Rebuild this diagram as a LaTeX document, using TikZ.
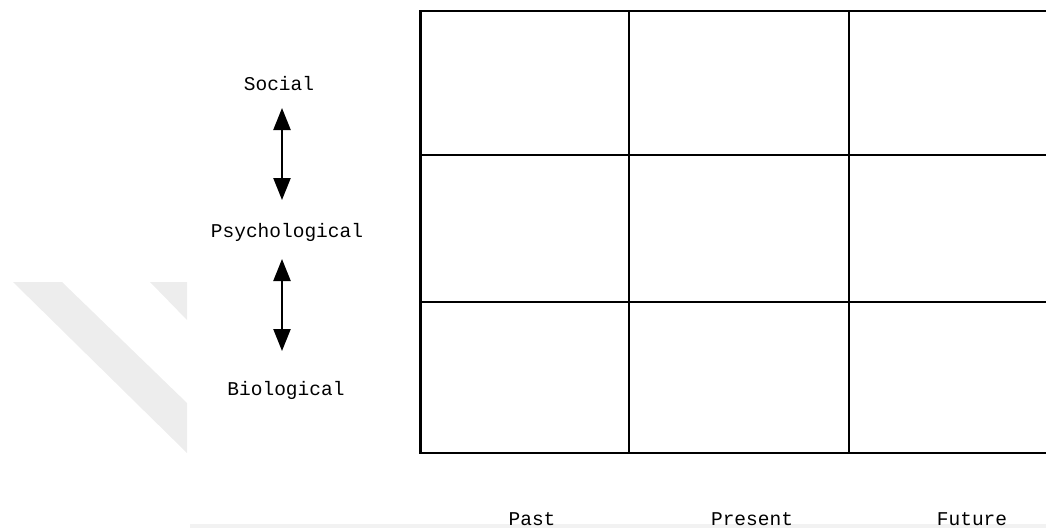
\documentclass[tikz,border=0pt]{standalone}
\usepackage{fontspec}
\newfontfamily\courfont{Liberation Mono}
\usetikzlibrary{arrows.meta}
\definecolor{wm}{HTML}{EDEDED}
\definecolor{bandgray}{HTML}{F2F2F2}
\tikzset{
  lbl/.style={font=\courfont\fontsize{19.5}{22}\selectfont, inner sep=0pt, anchor=base},
  gridline/.style={draw=black, line width=2.8pt},
  dbl/.style={line width=2.4pt, {Triangle[width=17pt,length=22pt]}-{Triangle[width=17pt,length=22pt]}}
}
\begin{document}
\begin{tikzpicture}[x=1pt,y=-1pt]
\useasboundingbox (0,0) rectangle (1046,528);
\clip (0,0) rectangle (1046,528);
% faint watermark
\fill[wm] (13,282) -- (62,282) -- (187,403) -- (187,453) -- cycle;
\fill[wm] (150,282) -- (187,282) -- (187,320) -- cycle;
\fill[bandgray] (190,524) rectangle (1046,528);
% grid cells
\foreach \r/\ya/\yb in {1/11/155,2/155/302,3/302/453}{
  \foreach \c/\xa/\xb in {1/420.5/629,2/629/849,3/849/1070}{
    \draw[gridline] (\xa,\ya) rectangle (\xb,\yb)
      node[midway, inner sep=0pt] (cell\r\c) {};
  }
}
% labels
\node[lbl] (soc) at (279,90) {Social};
\node[lbl] (psy) at (287,237) {Psychological};
\node[lbl] (bio) at (286,395) {Biological};
\node[lbl] (past) at (532,525) {Past};
\node[lbl] (pres) at (752,525) {Present};
\node[lbl] (fut) at (972,525) {Future};
% arrows
\coordinate (a1t) at (282,108);
\coordinate (a1b) at (282,200);
\coordinate (a2t) at (282,259);
\coordinate (a2b) at (282,351);
\draw[dbl] (a1t) -- (a1b);
\draw[dbl] (a2t) -- (a2b);
\end{tikzpicture}
\end{document}
